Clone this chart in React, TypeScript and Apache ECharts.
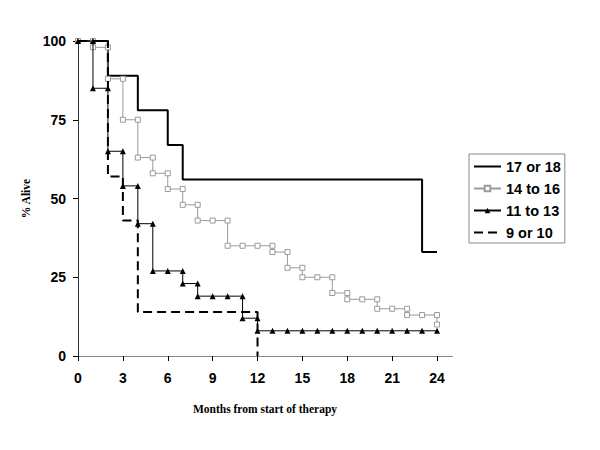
import React, { useEffect, useRef } from "react";
import * as echarts from "echarts";

// Kaplan-Meier style step curves (month, % alive)
const g1Name = "17 or 18";
const g1Months = [0, 2, 2, 4, 4, 6, 6, 7, 7, 23, 23, 24];
const g1Alive = [100, 100, 89, 89, 78, 78, 67, 67, 56, 56, 33, 33];

const g2Name = "14 to 16";
const g2Months = [0, 1, 1, 2, 2, 3, 3, 4, 4, 5, 5, 6, 6, 7, 7, 8, 8, 9, 10, 10, 11, 12, 13, 13, 14, 14, 15, 15, 16, 17, 17, 18, 18, 19, 20, 20, 21, 22, 22, 23, 24, 24];
const g2Alive = [100, 100, 98, 98, 88, 88, 75, 75, 63, 63, 58, 58, 53, 53, 48, 48, 43, 43, 43, 35, 35, 35, 35, 33, 33, 28, 28, 25, 25, 25, 20, 20, 18, 18, 18, 15, 15, 15, 13, 13, 13, 10];

const g3Name = "11 to 13";
const g3Months = [0, 1, 1, 2, 2, 3, 3, 4, 4, 5, 5, 6, 7, 7, 8, 8, 9, 10, 11, 11, 12, 12, 13, 14, 15, 16, 17, 18, 19, 20, 21, 22, 23, 24];
const g3Alive = [100, 100, 85, 85, 65, 65, 54, 54, 42, 42, 27, 27, 27, 23, 23, 19, 19, 19, 19, 12, 12, 8, 8, 8, 8, 8, 8, 8, 8, 8, 8, 8, 8, 8];

const g4Name = "9 or 10";
const g4Months = [0, 2, 2, 3, 3, 4, 4, 12, 12];
const g4Alive = [100, 100, 57, 57, 43, 43, 14, 14, 0];

const xTicks = [0, 3, 6, 9, 12, 15, 18, 21, 24];
const yTicks = [0, 25, 50, 75, 100];

const pairs = (xs: number[], ys: number[]) => xs.map((x, i) => [x, ys[i]]);

export default function App() {
  const ref = useRef<HTMLDivElement>(null);
  useEffect(() => {
    if (!ref.current) return;
    const chart = echarts.init(ref.current, null, { renderer: "svg" });
    const labelFont = { fontFamily: "Arial, 'Liberation Sans', sans-serif", fontWeight: "bold" as const, fontSize: 14, color: "#000" };
    const nameFont = { fontFamily: "'Times New Roman', 'Liberation Serif', serif", fontWeight: "bold" as const, fontSize: 11.5, color: "#000" };
    const hidden = { opacity: 0 };
    chart.setOption({
      animation: false,
      backgroundColor: "#fff",
      grid: { left: 78, top: 41, width: 374, height: 315, containLabel: false },
      legend: {
        orient: "vertical",
        left: 469,
        top: 154,
        padding: [5, 4, 3, 4],
        itemWidth: 27,
        itemHeight: 7,
        itemGap: 7,
        borderColor: "#888",
        borderWidth: 1,
        backgroundColor: "#fff",
        textStyle: { fontFamily: "Arial, 'Liberation Sans', sans-serif", fontWeight: "bold", fontSize: 14.5, color: "#000" },
        data: [
          { name: g1Name, itemStyle: hidden },
          { name: g2Name },
          { name: g3Name },
          { name: g4Name, itemStyle: hidden },
        ],
      },
      xAxis: [
        {
          type: "value",
          min: 0,
          max: 25,
          interval: 3,
          name: "Months from start of therapy",
          nameLocation: "middle",
          nameGap: 47,
          nameTextStyle: nameFont,
          axisLine: { lineStyle: { color: "#000", width: 1 } },
          axisTick: { show: true, length: 5, lineStyle: { color: "#000" }, customValues: xTicks },
          axisLabel: { ...labelFont, margin: 15, customValues: xTicks },
          splitLine: { show: false },
        },
        {
          type: "value",
          position: "top",
          min: 0,
          max: 25,
          axisLine: { show: true, lineStyle: { color: "#888", width: 1 } },
          axisTick: { show: false },
          axisLabel: { show: false },
          splitLine: { show: false },
        },
      ],
      yAxis: [
        {
          type: "value",
          min: 0,
          max: 100,
          interval: 25,
          name: "% Alive",
          nameLocation: "middle",
          nameGap: 42,
          nameTextStyle: nameFont,
          axisLine: { show: true, lineStyle: { color: "#000", width: 1 } },
          axisTick: { show: true, length: 5, lineStyle: { color: "#000" }, customValues: yTicks },
          axisLabel: { ...labelFont, margin: 12, customValues: yTicks },
          splitLine: { show: false },
        },
        {
          type: "value",
          position: "right",
          min: 0,
          max: 100,
          axisLine: { show: true, lineStyle: { color: "#333", width: 1 } },
          axisTick: { show: false },
          axisLabel: { show: false },
          splitLine: { show: false },
        },
      ],
      series: [
        {
          name: g1Name,
          type: "line",
          data: pairs(g1Months, g1Alive),
          symbol: "none",
          lineStyle: { color: "#000", width: 2 },
          itemStyle: { color: "#000" },
          z: 2,
        },
        {
          name: g2Name,
          type: "line",
          data: pairs(g2Months, g2Alive),
          symbol: "rect",
          symbolSize: 5,
          showAllSymbol: true,
          lineStyle: { color: "#9a9a9a", width: 1 },
          itemStyle: { color: "#fff", borderColor: "#9a9a9a", borderWidth: 1 },
          z: 3,
        },
        {
          name: g3Name,
          type: "line",
          data: pairs(g3Months, g3Alive),
          symbol: "triangle",
          symbolSize: 6,
          showAllSymbol: true,
          lineStyle: { color: "#000", width: 1 },
          itemStyle: { color: "#000" },
          z: 4,
        },
        {
          name: g4Name,
          type: "line",
          data: pairs(g4Months, g4Alive),
          symbol: "none",
          lineStyle: { color: "#000", width: 2, type: [9, 5] },
          itemStyle: { color: "#000" },
          z: 5,
        },
      ],
    });
    return () => chart.dispose();
  }, []);
  return <div ref={ref} style={{ position: "absolute", left: 0, top: 0, width: 600, height: 450 }} />;
}
